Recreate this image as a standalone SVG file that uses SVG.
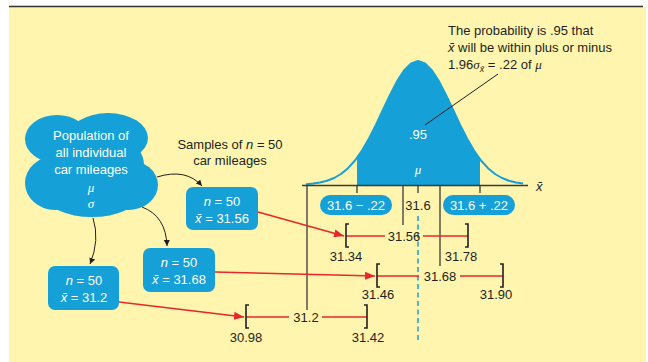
<svg xmlns="http://www.w3.org/2000/svg" width="648" height="362" viewBox="0 0 648 362">
<defs>
<style>
.t{font-family:"Liberation Sans",Arial,sans-serif;font-size:13px;fill:#231f20}
.w{font-family:"Liberation Sans",Arial,sans-serif;font-size:13px;fill:#ffffff}
.g{font-family:"Liberation Serif","Times New Roman",serif;font-style:italic}
.i{font-style:italic}
.blue{fill:#15a0d8}
.ax{stroke:#3a3a3a;stroke-width:1.3;fill:none}
.br{stroke:#231f20;stroke-width:1.6;fill:none}
.red{stroke:#e8262b;stroke-width:1.4;fill:none}
.blk{stroke:#231f20;stroke-width:1;fill:none}
</style>
<marker id="ra" viewBox="0 0 10 8" refX="10" refY="4" markerWidth="10" markerHeight="8" markerUnits="userSpaceOnUse" orient="auto">
<path d="M0,0 L10,4 L0,8 Z" fill="#e8262b"/>
</marker>
<marker id="ba" viewBox="0 0 6 6" refX="6" refY="3" markerWidth="6" markerHeight="6" markerUnits="userSpaceOnUse" orient="auto">
<path d="M0,0 L6,3 L0,6 Z" fill="#231f20"/>
</marker>
</defs>

<rect x="9" y="7" width="637" height="355" fill="#fff5ae"/>
<line x1="9" y1="6.5" x2="643" y2="6.5" stroke="#333" stroke-width="1.5"/>

<!-- normal curve -->
<g id="curve">
<path class="blue" d="M357,185 L357,157.8 L362,150.5 L369,138.5 L376,124.6 L383,109.8 L390,95 L397,81.4 L404,70.5 L411,63.5 L418,61 L425,63.5 L432,70.5 L439,81.4 L446,95 L453,109.8 L460,124.6 L467,138.5 L474,150.5 L480,159.2 L480,185 Z"/>
<path fill="none" stroke="#15a0d8" stroke-width="2" stroke-linejoin="round" d="M306,184.3 L313,183.6 L320,182.5 L327,180.8 L334,178 L341,174 L348,168.2 L355,160.5 L362,150.5 L369,138.5 L376,124.6 L383,109.8 L390,95 L397,81.4 L404,70.5 L411,63.5 L418,61 L425,63.5 L432,70.5 L439,81.4 L446,95 L453,109.8 L460,124.6 L467,138.5 L474,150.5 L481,160.5 L488,168.2 L495,174 L502,178 L509,180.8 L516,182.5 L523,183.6"/>
<line class="ax" x1="302" y1="185.5" x2="528" y2="185.5"/>
<text class="t i" x="536" y="191">x̄</text>
<text class="w" x="418" y="139" text-anchor="middle">.95</text>
<text class="w g" x="418" y="174" text-anchor="middle">μ</text>
<line class="ax" x1="357" y1="185" x2="357" y2="193"/>
<line class="ax" x1="480" y1="185" x2="480" y2="193"/>
<line class="ax" x1="418" y1="186" x2="418" y2="193"/>
<line class="ax" x1="307" y1="185" x2="307" y2="310"/>
<line class="ax" x1="403" y1="185" x2="403" y2="225"/>
<line class="ax" x1="440" y1="185" x2="440" y2="266"/>
<line x1="418" y1="216" x2="418" y2="342" stroke="#15a0d8" stroke-width="1.5" stroke-dasharray="5,3.5"/>
</g>

<g id="callout">
<text class="t" x="448" y="35">The probability is .95 that</text>
<text class="t" x="448" y="52"><tspan class="i">x̄</tspan> will be within plus or minus</text>
<text class="t" x="448" y="69">1.96<tspan class="g">σ</tspan><tspan class="i" font-size="9" dy="3">x̄</tspan><tspan dy="-3"> = .22 of </tspan><tspan class="g">μ</tspan></text>
<line class="blk" x1="498" y1="74" x2="425" y2="125"/>
</g>

<g id="pill-low">
<rect class="blue" x="320" y="195" width="72" height="20" rx="10"/>
<text class="w" x="356" y="209.5" text-anchor="middle" font-size="12.5">31.6 − .22</text>
</g>
<g id="pill-high">
<rect class="blue" x="443" y="195" width="72" height="20" rx="10"/>
<text class="w" x="479" y="209.5" text-anchor="middle" font-size="12.5">31.6 + .22</text>
</g>
<text class="t" x="418" y="210" text-anchor="middle" font-size="13.5">31.6</text>

<g id="population">
<g class="blue">
<ellipse cx="57" cy="139" rx="32" ry="24"/>
<ellipse cx="108" cy="138" rx="40" ry="25"/>
<ellipse cx="128" cy="185" rx="30" ry="25"/>
<ellipse cx="55" cy="183" rx="30" ry="27"/>
<ellipse cx="92" cy="196" rx="46" ry="21"/>
<ellipse cx="92" cy="165" rx="52" ry="35"/>
</g>
<text class="w" x="91" y="140" text-anchor="middle">Population of</text>
<text class="w" x="91" y="157" text-anchor="middle">all individual</text>
<text class="w" x="91" y="174" text-anchor="middle">car mileages</text>
<text class="w g" x="91" y="192" text-anchor="middle">μ</text>
<text class="w g" x="91" y="208" text-anchor="middle">σ</text>
</g>

<text class="t" x="230" y="149" text-anchor="middle">Samples of <tspan class="i">n</tspan> = 50</text>
<text class="t" x="230" y="165" text-anchor="middle">car mileages</text>

<g id="sample1">
<rect class="blue" x="186" y="187" width="72" height="43" rx="7"/>
<text class="w" x="222" y="206" text-anchor="middle" font-size="13.5"><tspan class="i">n</tspan> = 50</text>
<text class="w" x="222" y="223" text-anchor="middle" font-size="13.5"><tspan class="i">x̄</tspan> = 31.56</text>
</g>
<g id="sample2">
<rect class="blue" x="143" y="248" width="72" height="44" rx="7"/>
<text class="w" x="179" y="267" text-anchor="middle" font-size="13.5"><tspan class="i">n</tspan> = 50</text>
<text class="w" x="179" y="284" text-anchor="middle" font-size="13.5"><tspan class="i">x̄</tspan> = 31.68</text>
</g>
<g id="sample3">
<rect class="blue" x="48" y="266" width="71" height="44" rx="7"/>
<text class="w" x="84" y="285" text-anchor="middle" font-size="13.5"><tspan class="i">n</tspan> = 50</text>
<text class="w" x="84" y="302" text-anchor="middle" font-size="13.5"><tspan class="i">x̄</tspan> = 31.2</text>
</g>

<g id="interval1">
<line class="red" x1="346" y1="236" x2="385" y2="236"/>
<line class="red" x1="423" y1="236" x2="468" y2="236"/>
<path class="br" d="M349,224 L346,224 L346,247 L349,247"/>
<path class="br" d="M465,224 L468,224 L468,247 L465,247"/>
<text class="t" x="404" y="241" text-anchor="middle" font-size="13.5">31.56</text>
<text class="t" x="346" y="261" text-anchor="middle" font-size="13.5">31.34</text>
<text class="t" x="461" y="261" text-anchor="middle" font-size="13.5">31.78</text>
</g>
<g id="interval2">
<line class="red" x1="377" y1="276" x2="419" y2="276"/>
<line class="red" x1="460" y1="276" x2="503" y2="276"/>
<path class="br" d="M380,264 L377,264 L377,287 L380,287"/>
<path class="br" d="M500,264 L503,264 L503,287 L500,287"/>
<text class="t" x="440" y="281" text-anchor="middle" font-size="13.5">31.68</text>
<text class="t" x="378" y="299" text-anchor="middle" font-size="13.5">31.46</text>
<text class="t" x="496" y="299" text-anchor="middle" font-size="13.5">31.90</text>
</g>
<g id="interval3">
<line class="red" x1="246" y1="317" x2="289" y2="317"/>
<line class="red" x1="322" y1="317" x2="367" y2="317"/>
<path class="br" d="M249,305 L246,305 L246,328 L249,328"/>
<path class="br" d="M364,305 L367,305 L367,328 L364,328"/>
<text class="t" x="306" y="322" text-anchor="middle" font-size="13.5">31.2</text>
<text class="t" x="246" y="342" text-anchor="middle" font-size="13.5">30.98</text>
<text class="t" x="368" y="342" text-anchor="middle" font-size="13.5">31.42</text>
</g>

<g id="connectors">
<path class="blk" d="M157,177 Q186,168 202,186" marker-end="url(#ba)"/>
<path class="blk" d="M142,207 Q166,216 167,246" marker-end="url(#ba)"/>
<path class="blk" d="M93,218 Q100,240 90,264" marker-end="url(#ba)"/>
<line class="red" x1="258" y1="212" x2="344" y2="236" marker-end="url(#ra)"/>
<line class="red" x1="215" y1="272" x2="375" y2="276" marker-end="url(#ra)"/>
<line class="red" x1="119" y1="302" x2="244" y2="317" marker-end="url(#ra)"/>
</g>
</svg>
